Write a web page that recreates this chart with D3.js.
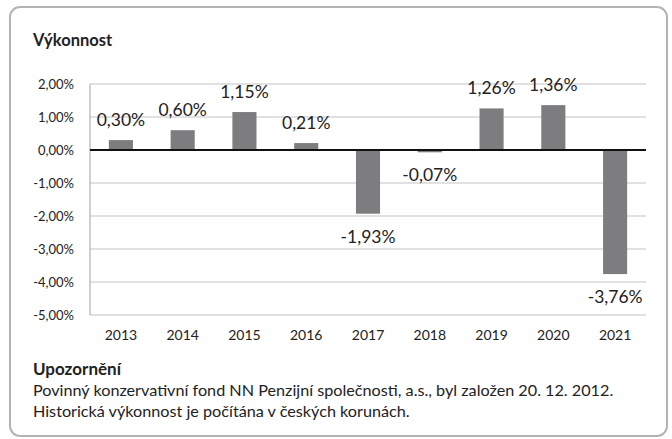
<!DOCTYPE html>
<html>
<head>
<meta charset="utf-8">
<script src="https://cdn.jsdelivr.net/npm/d3@7"></script>
<style>
  body { margin: 0; background: #fff; }
  text { font-family: Lato, "Open Sans", sans-serif; fill: #222; }
</style>
</head>
<body>
<svg id="chart" width="672" height="439"></svg>
<script>
const years = ['2013','2014','2015','2016','2017','2018','2019','2020','2021']
const values = [0.30, 0.60, 1.15, 0.21, -1.93, -0.07, 1.26, 1.36, -3.76]
const yTicks = [2, 1, 0, -1, -2, -3, -4, -5]
const noteLines = [
  'Povinný konzervativní fond NN Penzijní společnosti, a.s., byl založen 20. 12. 2012.',
  'Historická výkonnost je počítána v českých korunách.'
]

const svg = d3.select('#chart')
const margin = {left: 90, right: 26, top: 84, bottom: 124}
const width = 672, height = 439
const innerWidth = width - margin.left - margin.right
const innerHeight = height - margin.top - margin.bottom

const fmt = v => v.toFixed(2).replace('.', ',') + '%'

// rámeček
svg.append('rect')
  .attr('x', 10).attr('y', 7)
  .attr('width', 657).attr('height', 429)
  .attr('rx', 10)
  .attr('fill', 'none')
  .attr('stroke', '#b3b3b3')
  .attr('stroke-width', 2)

svg.append('text')
  .attr('x', 33).attr('y', 46)
  .text('Výkonnost')
  .attr('font-weight', 'bold')
  .attr('font-size', 16.5)

const xScale = d3.scaleBand()
  .domain(years)
  .range([0, innerWidth])
  .paddingInner(0.61)
  .paddingOuter(0.305)

const yScale = d3.scaleLinear()
  .domain([-5, 2])
  .range([innerHeight, 0])

const g = svg.append('g').attr('transform', `translate(${margin.left},${margin.top})`)

// mřížka
g.selectAll('.grid')
  .data(yTicks.filter(d => d !== 0))
  .join('line')
  .attr('x1', 0).attr('x2', innerWidth)
  .attr('y1', d => yScale(d)).attr('y2', d => yScale(d))
  .attr('stroke', '#c4c4c4')
  .attr('stroke-width', 1.2)

g.append('line')
  .attr('x1', 0).attr('x2', 0)
  .attr('y1', 0).attr('y2', innerHeight)
  .attr('stroke', '#b0b0b0')
  .attr('stroke-width', 1.2)

const yAxis = d3.axisLeft(yScale)
  .tickValues(yTicks)
  .tickFormat(fmt)
  .tickSize(0)
  .tickPadding(16)

g.append('g')
  .call(yAxis)
  .attr('font-size', 13)
  .attr('font-family', 'Lato, sans-serif')
  .call(a => a.select('.domain').remove())
  .selectAll('text')
  .attr('fill', '#222')

g.selectAll('.bar')
  .data(values)
  .join('rect')
  .attr('x', (d, i) => xScale(years[i]))
  .attr('y', d => yScale(Math.max(0, d)))
  .attr('width', xScale.bandwidth())
  .attr('height', d => Math.abs(yScale(d) - yScale(0)))
  .attr('fill', '#7d7d80')

g.append('line')
  .attr('x1', 0).attr('x2', innerWidth)
  .attr('y1', yScale(0)).attr('y2', yScale(0))
  .attr('stroke', '#111')
  .attr('stroke-width', 2)

g.selectAll('.lbl')
  .data(values)
  .join('text')
  .attr('x', (d, i) => xScale(years[i]) + xScale.bandwidth() / 2)
  .attr('y', d => d >= 0 ? yScale(d) - 14 : yScale(d) + 29)
  .attr('text-anchor', 'middle')
  .attr('font-size', 17.5)
  .text(fmt)

const xAxis = d3.axisBottom(xScale).tickSize(0).tickPadding(15)
g.append('g')
  .attr('transform', `translate(0,${innerHeight})`)
  .call(xAxis)
  .attr('font-size', 14)
  .attr('font-family', 'Lato, sans-serif')
  .call(a => a.select('.domain').remove())
  .selectAll('text')
  .attr('fill', '#222')

svg.append('text')
  .attr('x', 33).attr('y', 375)
  .text('Upozornění')
  .attr('font-weight', 'bold')
  .attr('font-size', 17)

svg.selectAll('.note')
  .data(noteLines)
  .join('text')
  .attr('x', 33)
  .attr('y', (d, i) => 396 + i * 21)
  .attr('font-size', 16.2)
  .text(d => d)
</script>
</body>
</html>
